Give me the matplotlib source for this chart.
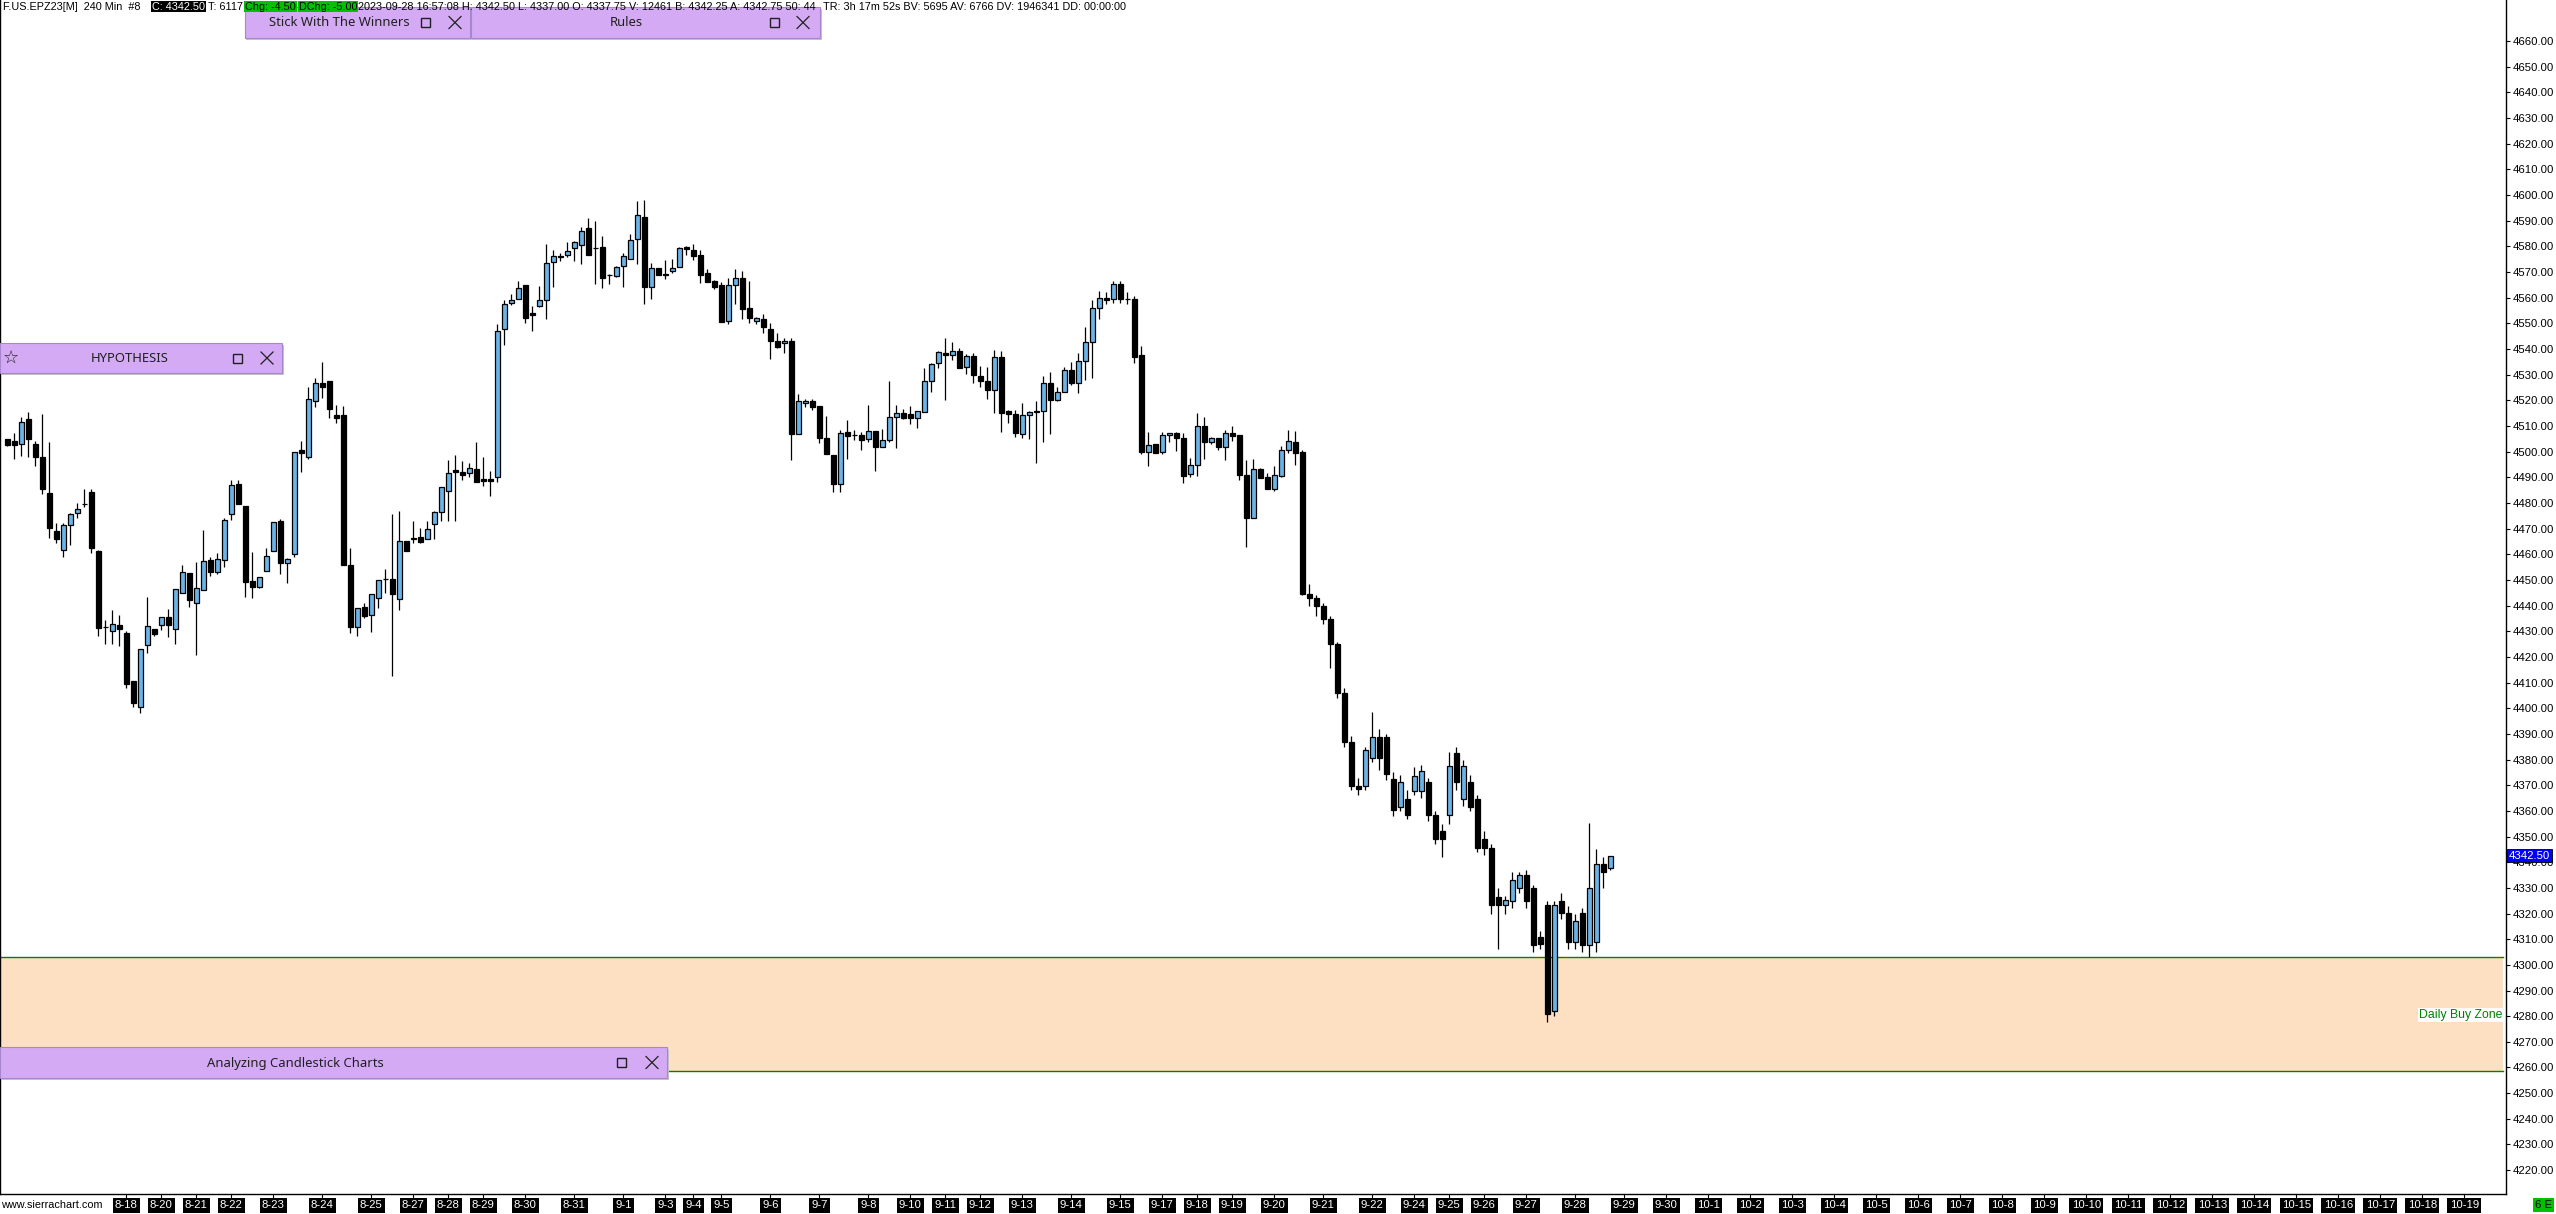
#Import the libraries required
import numpy as np
import matplotlib.pyplot as plt
from matplotlib import font_manager
from matplotlib.patches import Rectangle
from matplotlib.lines import Line2D
from matplotlib.ticker import FormatStrFormatter
from matplotlib.transforms import Bbox


def have(name):
    try:
        font_manager.findfont(name, fallback_to_default=False)
        return True
    except ValueError:
        return False


#the chart scale uses a narrow windows font, fall back to a smaller regular one
if have('Liberation Sans Narrow'):
    plt.rcParams['font.family'] = ['Liberation Sans Narrow', 'DejaVu Sans']
    FS, HFS = 9.2, 9.2
else:
    plt.rcParams['font.family'] = ['Liberation Sans', 'DejaVu Sans']
    FS, HFS = 8.2, 7.8

#240 min bars of F.US.EPZ23, one bar per slot (open, high, low, close)
opens = [4504.8, 4504.2, 4503.0, 4512.6, 4502.9, 4497.9, 4483.8, 4469.1, 4461.6, 4471.3,
         4476.2, 4479.6, 4484.2, 4461.3, 4431.5, 4430.0, 4432.5, 4429.3, 4410.6, 4400.3,
         4424.5, 4430.8, 4432.3, 4435.4, 4431.0, 4444.8, 4452.6, 4441.2, 4446.0, 4457.8,
         4452.9, 4457.7, 4475.6, 4487.3, 4478.8, 4449.6, 4447.4, 4453.5, 4461.3, 4473.0,
         4456.5, 4460.0, 4500.6, 4498.0, 4519.7, 4526.9, 4527.5, 4514.3, 4514.3, 4455.8,
         4431.8, 4439.3, 4436.4, 4442.9, 4450.5, 4450.4, 4442.5, 4465.2, 4466.2, 4466.6,
         4465.8, 4471.7, 4476.6, 4484.7, 4493.0, 4492.2, 4491.5, 4493.4, 4489.2, 4489.5,
         4490.2, 4547.6, 4558.1, 4559.3, 4564.9, 4553.9, 4556.8, 4558.9, 4574.0, 4576.2,
         4576.8, 4579.2, 4580.7, 4587.0, 4579.2, 4579.6, 4568.7, 4568.5, 4572.2, 4575.0,
         4582.7, 4591.6, 4564.0, 4571.4, 4569.4, 4570.2, 4571.8, 4579.6, 4578.5, 4576.5,
         4569.8, 4566.4, 4565.1, 4551.1, 4564.8, 4567.6, 4555.8, 4551.1, 4551.5, 4547.6,
         4543.1, 4542.2, 4543.3, 4506.9, 4518.8, 4519.6, 4517.7, 4505.5, 4498.6, 4487.2,
         4507.5, 4506.4, 4506.4, 4505.1, 4508.0, 4501.9, 4504.7, 4513.6, 4514.9, 4514.5,
         4513.2, 4515.5, 4527.7, 4534.4, 4538.3, 4537.5, 4539.4, 4532.8, 4537.1, 4529.3,
         4527.4, 4524.2, 4536.7, 4515.8, 4514.5, 4506.8, 4514.1, 4515.7, 4515.7, 4526.6,
         4520.3, 4523.1, 4532.0, 4526.6, 4535.2, 4542.6, 4555.8, 4559.7, 4559.3, 4565.2,
         4559.3, 4559.4, 4537.6, 4499.7, 4502.8, 4500.0, 4506.3, 4507.1, 4505.5, 4491.1,
         4494.9, 4509.8, 4503.6, 4505.2, 4501.9, 4507.1, 4506.3, 4490.9, 4474.2, 4493.1,
         4490.0, 4485.5, 4490.5, 4500.5, 4503.6, 4499.7, 4444.7, 4442.8, 4439.7, 4434.6,
         4425.1, 4406.0, 4387.0, 4369.8, 4369.8, 4380.6, 4388.9, 4388.9, 4372.4, 4361.6,
         4364.8, 4367.9, 4367.9, 4371.1, 4358.4, 4352.0, 4358.4, 4382.5, 4364.8, 4371.1,
         4364.8, 4348.9, 4345.7, 4326.6, 4323.5, 4324.7, 4330.0, 4334.9, 4329.8, 4310.8,
         4323.5, 4282.2, 4324.7, 4320.3, 4308.9, 4320.3, 4307.6, 4308.9, 4339.3, 4337.75]
highs = [4505.0, 4507.1, 4513.4, 4515.5, 4504.1, 4514.5, 4503.6, 4472.1, 4472.1, 4476.2,
         4480.1, 4485.3, 4485.3, 4461.7, 4434.4, 4438.3, 4436.4, 4430.1, 4410.6, 4423.0,
         4443.4, 4430.8, 4435.4, 4438.7, 4446.4, 4455.8, 4452.6, 4457.1, 4469.5, 4459.1,
         4460.6, 4474.3, 4489.0, 4489.0, 4478.8, 4460.9, 4451.0, 4462.3, 4472.5, 4473.6,
         4458.4, 4500.0, 4504.1, 4525.1, 4528.6, 4534.8, 4527.5, 4518.2, 4517.8, 4462.3,
         4439.0, 4441.2, 4444.4, 4450.0, 4454.1, 4475.6, 4476.9, 4465.2, 4473.0, 4470.4,
         4473.0, 4476.9, 4486.4, 4496.9, 4498.6, 4496.2, 4495.4, 4503.6, 4497.9, 4492.4,
         4549.7, 4559.0, 4561.6, 4566.4, 4565.1, 4556.7, 4564.5, 4580.9, 4578.5, 4577.6,
         4581.6, 4582.2, 4587.4, 4590.9, 4589.8, 4584.2, 4569.4, 4572.5, 4577.6, 4585.0,
         4597.6, 4598.0, 4573.7, 4571.4, 4574.6, 4575.0, 4579.6, 4580.3, 4581.1, 4578.5,
         4571.1, 4566.8, 4566.2, 4567.5, 4571.1, 4570.3, 4566.4, 4552.3, 4553.8, 4550.3,
         4546.1, 4544.1, 4544.1, 4522.3, 4520.7, 4520.7, 4517.7, 4513.8, 4498.6, 4508.6,
         4512.3, 4508.4, 4507.7, 4518.1, 4508.0, 4509.0, 4527.5, 4518.1, 4516.8, 4517.8,
         4515.7, 4532.4, 4534.4, 4539.2, 4544.1, 4542.7, 4540.2, 4537.9, 4538.3, 4533.5,
         4532.9, 4539.6, 4539.2, 4516.2, 4516.2, 4518.9, 4515.8, 4519.7, 4529.4, 4530.9,
         4525.0, 4532.9, 4534.9, 4538.3, 4548.7, 4559.1, 4562.6, 4562.3, 4566.5, 4566.5,
         4562.1, 4560.6, 4541.1, 4507.6, 4502.8, 4507.6, 4507.1, 4507.6, 4507.1, 4497.7,
         4515.0, 4513.5, 4505.8, 4505.5, 4508.4, 4509.9, 4506.3, 4496.7, 4497.1, 4493.7,
         4491.5, 4494.4, 4502.0, 4508.4, 4508.0, 4500.6, 4448.4, 4444.0, 4441.0, 4436.0,
         4426.0, 4408.0, 4389.0, 4373.0, 4385.0, 4398.4, 4392.0, 4390.0, 4375.0, 4374.0,
         4368.0, 4377.0, 4378.0, 4373.0, 4360.0, 4355.0, 4383.0, 4385.0, 4380.0, 4374.0,
         4366.0, 4352.0, 4347.0, 4330.0, 4327.0, 4336.0, 4336.0, 4337.0, 4331.0, 4313.0,
         4325.0, 4325.0, 4328.0, 4323.0, 4320.0, 4322.0, 4355.2, 4345.0, 4342.0, 4342.5]
lows = [4502.3, 4497.0, 4498.3, 4497.8, 4494.4, 4483.4, 4466.5, 4464.5, 4459.1, 4463.6,
        4474.3, 4478.6, 4460.4, 4428.3, 4424.9, 4424.9, 4424.4, 4407.7, 4400.3, 4398.3,
        4421.7, 4428.3, 4430.6, 4427.7, 4425.2, 4444.8, 4439.6, 4420.6, 4446.0, 4451.6,
        4452.4, 4455.2, 4473.4, 4479.5, 4443.5, 4443.1, 4447.0, 4453.5, 4461.3, 4452.2,
        4449.0, 4459.1, 4492.2, 4497.0, 4517.5, 4521.0, 4513.2, 4511.0, 4455.8, 4429.5,
        4428.2, 4435.1, 4429.6, 4439.0, 4444.8, 4412.7, 4438.3, 4461.4, 4464.3, 4464.5,
        4465.8, 4465.8, 4473.1, 4473.0, 4473.0, 4488.9, 4490.2, 4488.3, 4486.7, 4482.8,
        4488.3, 4541.5, 4557.1, 4559.3, 4550.2, 4547.0, 4556.4, 4551.8, 4564.2, 4574.4,
        4575.9, 4574.2, 4573.3, 4576.8, 4565.5, 4563.6, 4565.5, 4568.1, 4564.2, 4575.0,
        4573.3, 4557.6, 4559.6, 4569.0, 4567.4, 4569.7, 4571.8, 4576.8, 4574.6, 4565.8,
        4566.2, 4563.2, 4550.6, 4549.8, 4557.6, 4551.8, 4550.2, 4549.6, 4546.4, 4536.2,
        4540.2, 4538.3, 4496.7, 4506.9, 4517.5, 4516.2, 4503.4, 4498.9, 4484.4, 4484.1,
        4497.3, 4504.7, 4500.6, 4503.8, 4492.5, 4501.9, 4503.8, 4501.5, 4512.9, 4510.7,
        4509.3, 4515.5, 4523.3, 4532.4, 4520.3, 4535.9, 4532.7, 4530.3, 4526.8, 4525.3,
        4520.6, 4515.2, 4507.7, 4511.2, 4505.8, 4505.5, 4505.0, 4495.7, 4503.8, 4506.7,
        4519.8, 4523.1, 4526.0, 4522.7, 4528.1, 4528.8, 4551.5, 4557.4, 4557.8, 4557.8,
        4557.4, 4534.6, 4498.9, 4494.5, 4499.3, 4498.9, 4503.8, 4500.3, 4487.6, 4490.2,
        4490.5, 4497.0, 4503.1, 4500.6, 4496.7, 4504.1, 4488.9, 4462.9, 4474.2, 4489.8,
        4485.3, 4484.7, 4490.2, 4499.6, 4494.7, 4444.1, 4440.0, 4436.0, 4433.0, 4415.6,
        4404.0, 4385.0, 4368.0, 4366.0, 4368.0, 4379.0, 4376.0, 4372.0, 4358.0, 4360.0,
        4357.0, 4366.0, 4365.0, 4356.0, 4347.0, 4342.0, 4355.0, 4368.0, 4362.0, 4360.0,
        4344.0, 4343.0, 4320.0, 4306.3, 4320.0, 4322.0, 4328.0, 4322.0, 4305.0, 4306.0,
        4277.7, 4280.0, 4318.0, 4306.0, 4306.0, 4305.0, 4303.0, 4305.0, 4330.0, 4337.0]
closes = [4502.5, 4502.5, 4511.7, 4504.8, 4497.8, 4485.6, 4470.4, 4466.1, 4471.3, 4475.6,
          4477.8, 4479.6, 4462.6, 4431.4, 4431.5, 4432.7, 4431.0, 4409.6, 4402.2, 4423.0,
          4431.9, 4428.8, 4435.4, 4432.6, 4446.4, 4453.0, 4442.1, 4446.8, 4457.4, 4452.9,
          4458.3, 4473.2, 4486.9, 4479.5, 4449.3, 4447.4, 4451.0, 4459.5, 4472.5, 4456.5,
          4458.0, 4500.0, 4499.3, 4520.4, 4526.6, 4525.1, 4516.5, 4513.2, 4455.8, 4431.8,
          4439.0, 4436.1, 4444.4, 4450.0, 4450.5, 4444.4, 4465.2, 4461.4, 4466.0, 4464.8,
          4469.7, 4476.4, 4486.1, 4491.5, 4492.2, 4490.9, 4493.8, 4488.3, 4488.6, 4488.6,
          4547.0, 4557.7, 4559.0, 4563.6, 4552.2, 4553.3, 4558.9, 4573.7, 4576.1, 4575.7,
          4578.1, 4581.6, 4585.9, 4576.8, 4579.2, 4567.7, 4568.7, 4571.8, 4576.1, 4582.3,
          4592.4, 4564.2, 4571.4, 4569.0, 4568.9, 4571.4, 4579.2, 4578.8, 4576.3, 4569.0,
          4566.2, 4564.2, 4550.6, 4564.8, 4567.6, 4555.7, 4551.9, 4552.0, 4548.4, 4543.2,
          4540.9, 4543.1, 4506.9, 4519.6, 4519.6, 4517.5, 4505.5, 4498.9, 4487.2, 4507.1,
          4506.2, 4506.4, 4504.7, 4508.0, 4501.9, 4504.7, 4513.4, 4514.9, 4513.2, 4513.2,
          4515.7, 4527.7, 4534.0, 4538.7, 4537.5, 4539.4, 4532.7, 4537.1, 4529.7, 4527.7,
          4524.2, 4536.7, 4515.2, 4514.5, 4507.1, 4514.1, 4515.3, 4515.3, 4526.6, 4520.3,
          4523.1, 4532.0, 4526.6, 4535.2, 4542.6, 4555.8, 4559.7, 4559.1, 4565.2, 4559.3,
          4559.3, 4537.0, 4500.0, 4502.4, 4499.3, 4506.3, 4507.1, 4505.5, 4490.5, 4494.9,
          4509.8, 4503.6, 4505.2, 4501.9, 4507.1, 4506.2, 4490.9, 4474.2, 4493.1, 4489.8,
          4485.5, 4490.7, 4500.5, 4504.0, 4499.3, 4444.5, 4443.1, 4439.7, 4434.6, 4425.1,
          4406.0, 4387.0, 4369.8, 4368.5, 4383.8, 4388.9, 4380.6, 4374.3, 4360.3, 4371.1,
          4358.4, 4373.6, 4375.5, 4358.4, 4348.9, 4348.9, 4377.5, 4371.1, 4377.5, 4361.6,
          4345.7, 4345.7, 4323.5, 4323.5, 4325.4, 4333.0, 4334.9, 4324.7, 4307.6, 4308.0,
          4280.9, 4323.5, 4320.3, 4308.9, 4317.1, 4307.6, 4330.0, 4339.3, 4336.2, 4342.5]

#date labels and the bar index they sit on
date_labels = ['8-18', '8-20', '8-21', '8-22', '8-23', '8-24', '8-25', '8-27', '8-28', '8-29',
               '8-30', '8-31', '9-1', '9-3', '9-4', '9-5', '9-6', '9-7', '9-8', '9-10',
               '9-11', '9-12', '9-13', '9-14', '9-15', '9-17', '9-18', '9-19', '9-20', '9-21',
               '9-22', '9-24', '9-25', '9-26', '9-27', '9-28', '9-29', '9-30', '10-1', '10-2',
               '10-3', '10-4', '10-5', '10-6', '10-7', '10-8', '10-9', '10-10', '10-11', '10-12',
               '10-13', '10-14', '10-15', '10-16', '10-17', '10-18', '10-19']
date_bars = [17, 22, 27, 32, 38, 45, 52, 58, 63, 68,
             74, 81, 88, 94, 98, 102, 109, 116, 123, 129,
             134, 139, 145, 152, 159, 165, 170, 175, 181, 188,
             195, 201, 206, 211, 217, 224, 231, 237, 243, 249,
             255, 261, 267, 273, 279, 285, 291, 297, 303, 309,
             315, 321, 327, 333, 339, 345, 351]

price_ticks = np.arange(4220, 4661, 10)
last_price = 4342.50
zone_low = 4258.5
zone_high = 4303.0

W, H = 2556, 1214
BLUE = '#6cb4e6'
PANEL = '#d4aaf5'

fig = plt.figure(figsize=(W / 100, H / 100), dpi=100)
ax = fig.add_axes([0, 20 / H, 2506 / W, 1194 / H])
ax.set_xlim(-1.05, 356.95)
ax.set_ylim(4210.7, 4676.0)

#buy zone
ax.axhspan(zone_low, zone_high, xmin=0, xmax=2503 / 2506, color='#fde0c2', lw=0, zorder=0)
ax.axhline(zone_high, xmin=0, xmax=2503 / 2506, color='#008000', lw=1.0, zorder=1)
ax.axhline(zone_low, xmin=0, xmax=2503 / 2506, color='#008000', lw=1.0, zorder=1)
ax.text(356.4, 4280.5, 'Daily Buy Zone', color='#008000', fontsize=8.8, ha='right', va='center',
        family=['Liberation Sans', 'DejaVu Sans'],
        bbox=dict(boxstyle='square,pad=0.1', fc='white', ec='none'), zorder=2)

#candles
o = np.array(opens)
c = np.array(closes)
x = np.arange(len(o))
up = c >= o
ax.vlines(x, lows, highs, color='black', lw=0.9, zorder=3)
lo = np.minimum(o, c)
ht = np.abs(c - o)
ax.bar(x[up], ht[up], bottom=lo[up], width=0.72, color=BLUE, edgecolor='black', lw=0.9, zorder=4)
ax.bar(x[~up], ht[~up], bottom=lo[~up], width=0.72, color='black', edgecolor='black', lw=0.9, zorder=4)

#axes look
ax.spines['top'].set_visible(False)
for s in ['left', 'right', 'bottom']:
    ax.spines[s].set_linewidth(1.0)
ax.yaxis.tick_right()
ax.set_yticks(price_ticks)
ax.yaxis.set_major_formatter(FormatStrFormatter('%.2f'))
ax.tick_params(axis='y', length=3, width=0.8, pad=1.5, labelsize=FS)
ax.set_xticks(date_bars, date_labels)
ax.tick_params(axis='x', length=3, width=0.8, pad=1.6, labelsize=FS, labelcolor='white')
for lbl in ax.get_xticklabels():
    lbl.set_bbox(dict(boxstyle='square,pad=0.2', fc='black', ec='none'))

#last price marker on the scale
ax.text(1.0012, last_price, '%.2f' % last_price, transform=ax.get_yaxis_transform(),
        color='white', fontsize=FS, ha='left', va='center',
        bbox=dict(boxstyle='square,pad=0.15', fc='#0000ff', ec='black', lw=0.6), zorder=10, clip_on=False)

#overlay in pixel coords for header, panels and small labels
ov = fig.add_axes([0, 0, 1, 1], zorder=5)
ov.set_xlim(0, W)
ov.set_ylim(H, 0)
ov.axis('off')
ov.patch.set_alpha(0)

hy = 6.5
ov.text(3, hy, 'F.US.EPZ23[M]  240 Min  #8', fontsize=HFS, va='center')
ov.text(152, hy, 'C: 4342.50', fontsize=HFS, va='center', color='white',
        bbox=dict(boxstyle='square,pad=0.08', fc='black', ec='none'))
ov.text(208, hy, 'T: 6117', fontsize=HFS, va='center')
ov.text(245, hy, 'Chg: -4.50', fontsize=HFS, va='center',
        bbox=dict(boxstyle='square,pad=0.08', fc='#00c000', ec='none'))
ov.text(299, hy, 'DChg: -5.00', fontsize=HFS, va='center',
        bbox=dict(boxstyle='square,pad=0.08', fc='#00c000', ec='none'))
mid = ov.text(358, hy, '2023-09-28 16:57:08 H: 4342.50 L: 4337.00 O: 4337.75 V: 12461 '
              'B: 4342.25 A: 4342.75 50: 44', fontsize=HFS, va='center')
mid.set_clip_box(Bbox([[0, H - 14], [819, H]]))
mid.set_clip_on(True)
ov.text(823, hy, 'TR: 3h 17m 52s BV: 5695 AV: 6766 DV: 1946341 DD: 00:00:00', fontsize=HFS, va='center')


def panel(x0, y0, x1, y1, title, tx, sq, xx, star=False):
    ov.add_patch(Rectangle((x0 + 1, y0 + 2), x1 - x0 + 1, y1 - y0, fc='#c4c4c4', ec='none', zorder=1))
    ov.add_patch(Rectangle((x0, y0), x1 - x0, y1 - y0, fc=PANEL, ec='#a886cc', lw=0.8, zorder=2))
    yc = (y0 + y1) / 2
    ov.text(tx, yc + 0.5, title, fontsize=9.4, ha='center', va='center', color='#202020',
            family=['Noto Sans', 'DejaVu Sans'], zorder=3)
    ov.add_patch(Rectangle((sq - 4.5, yc - 4.5), 9, 9, fc='none', ec='#202020', lw=1.0, zorder=3))
    ov.add_line(Line2D([xx - 6, xx + 6], [yc - 6, yc + 6], color='#202020', lw=0.9, zorder=3))
    ov.add_line(Line2D([xx - 6, xx + 6], [yc + 6, yc - 6], color='#202020', lw=0.9, zorder=3))
    if star:
        ov.text(x0 + 11, yc, '\u2606', fontsize=13, ha='center', va='center', color='#202020',
                family='DejaVu Sans', zorder=3)


panel(245, 7, 470, 38, 'Stick With The Winners', 339, 425, 455)
panel(471, 7, 820, 38, 'Rules', 626, 774, 803)
panel(0, 343, 282, 373, 'HYPOTHESIS', 130, 237, 267, star=True)
panel(0, 1047, 667, 1078, 'Analyzing Candlestick Charts', 295, 621, 652)

ov.text(1, 1205, 'www.sierrachart.com', fontsize=HFS, va='center')
ov.text(2535, 1205, '6 E', fontsize=FS, va='center',
        bbox=dict(boxstyle='square,pad=0.2', fc='#00c000', ec='none'))

fig.savefig('out.png', dpi=100)
